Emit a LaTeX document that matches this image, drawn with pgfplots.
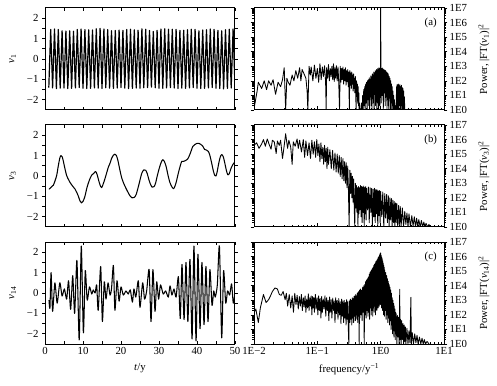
\documentclass[border=0pt]{standalone}
\usepackage{fontspec}
\setmainfont{Liberation Serif}
\usepackage{pgfplots}
\pgfplotsset{compat=1.18}

\pgfplotsset{
  panel/.style={
    scale only axis, width=190pt, height=102pt,
    axis line style={line width=1pt},
    every tick/.style={black, line width=0.7pt},
    xtick align=inside, ytick align=outside,
    major tick length=3pt, minor tick length=3pt,
    tick label style={font=\fontsize{10.8}{12}\selectfont},
    label style={font=\fontsize{10.8}{12}\selectfont},
    xlabel style={yshift=-2pt},
  },
  tpanel/.style={panel,
    xmin=0, xmax=50, ymin=-2.5, ymax=2.5,
    xtick={0,10,...,50}, minor xtick={5,15,...,45},
    ytick={-2,-1,0,1,2}, minor ytick={-1.5,-0.5,0.5,1.5},
    yticklabels={−2,−1,0,1,2},
    ylabel style={at={(axis description cs:-0.17,0.5)}, anchor=center},
  },
  fpanel/.style={panel,
    xmin=0.01, xmax=10, ymin=1, ymax=1e7,
    xtick={0.01,0.1,1,10},
    minor xtick={0.02,0.03,0.04,0.05,0.06,0.07,0.08,0.09,0.2,0.3,0.4,0.5,0.6,0.7,0.8,0.9,2,3,4,5,6,7,8,9},
    minor tick length=2pt, major tick length=3.5pt,
    ytick={1,10,100,1000,10000,100000,1000000,10000000},
    yticklabels={1E0,1E1,1E2,1E3,1E4,1E5,1E6,1E7},
    yticklabel pos=right,
    yticklabel style={inner xsep=2pt},
    ylabel style={at={(axis description cs:1.21,0.5)}, anchor=center},
  },
  ser/.style={black, line width=1.05pt, mark=none, line join=round},
  spec/.style={black, line width=0.85pt, mark=none, line join=round},
}

\begin{document}
\begin{tikzpicture}
\useasboundingbox (0,0) rectangle (497pt,385pt);

% ---------- v1 ----------
\begin{axis}[tpanel, at={(45pt,275pt)}, anchor=south west,
  xticklabels={}, ylabel={\textit{v}\textsubscript{1}}]
\addplot[ser, line width=1.2pt] coordinates {
(1,-1.40)(1.5,1.45)(2,-1.42)(2.5,1.47)(3,-1.45)(3.5,1.45)(4,-1.43)(4.5,1.38)(5,-1.42)(5.5,1.37)
(6,-1.45)(6.5,1.38)(7,-1.44)(7.5,1.36)(8,-1.42)(8.5,1.45)(9,-1.40)(9.5,1.47)(10,-1.43)(10.5,1.44)
(11,-1.45)(11.5,1.43)(12,-1.44)(12.5,1.42)(13,-1.42)(13.5,1.48)(14,-1.43)(14.5,1.50)(15,-1.45)(15.5,1.47)
(16,-1.41)(16.5,1.44)(17,-1.43)(17.5,1.38)(18,-1.44)(18.5,1.40)(19,-1.42)(19.5,1.42)(20,-1.40)(20.5,1.40)
(21,-1.43)(21.5,1.45)(22,-1.45)(22.5,1.46)(23,-1.44)(23.5,1.43)(24,-1.42)(24.5,1.41)(25,-1.43)(25.5,1.48)
(26,-1.41)(26.5,1.46)(27,-1.40)(27.5,1.40)(28,-1.38)(28.5,1.35)(29,-1.41)(29.5,1.40)(30,-1.43)(30.5,1.47)
(31,-1.44)(31.5,1.48)(32,-1.42)(32.5,1.46)(33,-1.40)(33.5,1.46)(34,-1.42)(34.5,1.45)(35,-1.45)(35.5,1.40)
(36,-1.43)(36.5,1.41)(37,-1.44)(37.5,1.44)(38,-1.42)(38.5,1.46)(39,-1.40)(39.5,1.45)(40,-1.43)(40.5,1.38)
(41,-1.45)(41.5,1.42)(42,-1.44)(42.5,1.44)(43,-1.42)(43.5,1.47)(44,-1.40)(44.5,1.45)(45,-1.43)(45.5,1.40)
(46,-1.45)(46.5,1.38)(47,-1.47)(47.5,1.44)(48,-1.44)(48.5,1.46)(49,-1.42)(49.5,1.47)(50,-1.40)
};
\end{axis}

% ---------- v3 ----------
\begin{axis}[tpanel, at={(45pt,158pt)}, anchor=south west,
  xticklabels={}, ylabel={\textit{v}\textsubscript{3}}]
\addplot[ser, smooth] coordinates {
(1.05,-0.65)(1.6,-0.55)(2.2,-0.45)(2.7,-0.2)(3.1,0.05)(3.5,0.5)(3.9,0.88)(4.2,1.0)(4.5,0.95)(4.8,0.75)
(5.2,0.4)(5.7,0.02)(6.2,-0.18)(6.6,-0.32)(7.2,-0.48)(7.9,-0.64)(8.4,-0.82)(8.8,-1.0)(9.2,-1.22)(9.6,-1.32)
(10.0,-1.25)(10.5,-1.0)(11.0,-0.6)(11.4,-0.35)(11.9,-0.1)(12.3,0.05)(12.8,0.12)(13.3,0.22)(13.7,0.08)(14.1,-0.2)
(14.5,-0.45)(14.9,-0.57)(15.3,-0.4)(15.8,-0.12)(16.3,0.2)(16.7,0.45)(17.1,0.62)(17.5,0.85)(18.0,1.02)(18.4,1.07)
(18.8,1.0)(19.2,0.75)(19.7,0.3)(20.2,-0.1)(20.8,-0.4)(21.3,-0.6)(21.9,-0.82)(22.4,-0.98)(22.9,-1.07)(23.5,-1.05)
(24.0,-0.9)(24.6,-0.5)(25.0,-0.2)(25.5,0.15)(26.0,0.3)(26.5,0.28)(26.9,0.12)(27.3,-0.15)(27.7,-0.38)(28.2,-0.55)
(28.7,-0.52)(29.1,-0.35)(29.6,0.05)(30.1,0.4)(30.6,0.68)(31.0,0.8)(31.4,0.72)(31.9,0.45)(32.3,0.1)(32.8,-0.28)
(33.3,-0.5)(33.8,-0.62)(34.2,-0.5)(34.6,-0.25)(35.1,0.15)(35.6,0.5)(36.0,0.72)(36.5,0.72)(37.0,0.76)(37.5,0.82)
(38.0,1.0)(38.5,1.25)(38.9,1.45)(39.5,1.55)(40.0,1.6)(40.5,1.6)(41.0,1.55)(41.5,1.47)(42.0,1.3)(42.5,1.27)
(43.0,1.2)(43.4,1.0)(43.9,0.6)(44.3,0.25)(44.7,0.02)(45.0,0.0)(45.3,0.2)(45.7,0.6)(46.1,0.92)(46.5,1.05)
(46.9,0.95)(47.3,0.65)(47.7,0.3)(48.1,0.06)(48.5,0.12)(48.9,0.35)(49.4,0.55)(50,0.7)
};
\end{axis}

% ---------- v14 ----------
\begin{axis}[tpanel, at={(45pt,41pt)}, anchor=south west,
  xticklabels={0,10,20,30,40,50}, xlabel={\textit{t}/y},
  ylabel={\textit{v}\textsubscript{14}}]
\addplot[ser, smooth, tension=0.4] coordinates {
(1.05,-0.35)(1.3,-0.75)(1.6,1.0)(2.0,-0.9)(2.6,0.5)(3.2,-0.5)(3.9,0.5)(4.5,-0.15)(5.1,0.2)(5.7,-0.3)
(6.2,0.6)(6.75,-0.8)(7.3,0.85)(7.8,-1.0)(8.4,1.6)(9.0,-2.3)(9.55,2.3)(10.1,-1.95)(10.6,1.1)(11.1,-0.35)
(11.7,0.3)(12.3,-0.05)(12.7,0.15)(13.2,0.0)(13.6,0.4)(14.0,-0.85)(14.65,1.3)(15.1,-1.4)(15.6,0.55)(16.05,-0.3)
(16.6,0.5)(17.1,-0.1)(17.5,0.2)(18.0,1.35)(18.4,-0.85)(18.95,0.6)(19.5,-0.4)(20.0,0.3)(20.6,-0.1)(21.3,0.1)
(21.9,-0.05)(22.45,0.15)(23.0,-0.45)(23.4,0.2)(23.9,-0.2)(24.55,0.6)(25.0,-0.7)(25.7,0.5)(26.2,-0.3)(26.75,0.1)
(27.4,1.15)(27.9,-1.4)(28.4,1.15)(28.95,-0.9)(29.4,0.55)(29.9,-0.3)(30.4,0.4)(31.1,-0.05)(31.75,0.1)(32.45,-0.2)
(32.9,0.35)(33.4,-0.1)(33.95,0.2)(34.5,-0.2)(35.1,0.8)(35.6,-1.25)(36.05,1.4)(36.6,-1.3)(37.1,1.5)(37.6,-1.4)
(38.15,1.65)(38.7,-2.25)(39.2,2.3)(39.75,-2.35)(40.25,1.9)(40.8,-1.75)(41.3,1.5)(41.85,-1.55)(42.35,1.3)(42.9,-1.4)
(43.4,1.15)(43.95,-0.6)(44.4,0.1)(44.8,-0.2)(45.35,0.4)(45.9,2.3)(46.5,-2.2)(47.0,1.1)(47.55,-0.5)(48.05,0.1)
(48.6,-0.1)(49.1,0.45)(49.55,-0.5)(50.0,0.0)
};
\end{axis}

% ---------- spectrum (a) ----------
\begin{loglogaxis}[fpanel, at={(254pt,275pt)}, anchor=south west,
  xticklabels={}, ylabel={Power, |FT(\textit{v}\textsubscript{1})|\textsuperscript{2}}]
\addplot[spec] coordinates {
(0.0100,1.2)(0.0112,20)(0.0117,80)(0.0132,30)(0.0145,100)(0.0158,25)(0.0170,100)(0.0186,50)(0.0200,120)(0.0219,12)
(0.0240,80)(0.0263,40)(0.0282,120)(0.0300,800)(0.0316,1)(0.0330,150)(0.0347,80)(0.0370,50)(0.0400,250)(0.0427,100)
(0.0457,500)(0.0490,150)(0.0525,800)(0.0550,100)(0.0575,600)(0.0617,300)(0.0660,150)(0.0690,20)(0.0708,1)(0.0740,1000)
(0.0776,250)
(0.080,900)(0.085,100)(0.090,1200)(0.095,150)(0.100,700)(0.105,80)(0.110,1500)(0.115,120)(0.120,900)(0.125,200)
(0.130,1100)(0.135,90)(0.138,1)(0.140,800)(0.145,150)(0.150,1300)(0.155,100)(0.160,700)(0.165,200)(0.170,1000)
(0.175,120)(0.180,1500)(0.185,90)(0.190,800)(0.195,150)(0.200,1100)(0.206,100)(0.212,900)(0.218,70)(0.224,1)
(0.230,1000)(0.236,80)(0.242,700)(0.248,120)(0.254,900)(0.260,60)(0.266,600)(0.272,100)(0.278,800)(0.284,50)
(0.290,500)(0.296,90)(0.302,600)(0.308,40)(0.314,400)(0.320,1)(0.326,500)(0.332,50)(0.338,350)(0.344,30)
(0.350,400)(0.356,60)(0.362,250)(0.368,20)(0.374,300)(0.380,30)(0.386,150)(0.392,15)(0.398,200)(0.404,10)
(0.410,1)(0.416,100)(0.422,10)(0.428,60)(0.434,3)(0.440,40)(0.446,2)(0.452,15)(0.458,1)(0.464,3)
(0.470,1)(0.490,1)
(0.50,3)(0.51,1)(0.52,10)(0.53,1)(0.54,25)(0.55,2)(0.56,40)(0.57,1)(0.58,60)(0.59,3)
(0.60,80)(0.61,1)(0.62,100)(0.63,5)(0.64,120)(0.65,2)(0.66,160)(0.67,1)(0.68,130)(0.69,8)
(0.70,220)(0.71,2)(0.72,180)(0.73,1)(0.74,300)(0.75,10)(0.76,250)(0.77,3)(0.78,400)(0.79,1)
(0.80,350)(0.81,20)(0.82,500)(0.83,2)(0.84,450)(0.85,5)(0.86,600)(0.87,1)(0.88,550)(0.89,15)
(0.90,700)(0.91,3)(0.92,650)(0.93,1)(0.94,800)(0.95,20)(0.96,700)(0.97,2)(0.98,750)(0.99,10)
(1.00,10000000)(1.01,800)(1.02,3)(1.04,700)(1.06,10)(1.08,750)(1.10,1)(1.12,600)(1.14,15)(1.16,550)
(1.18,2)(1.20,500)(1.22,8)(1.24,400)(1.26,1)(1.28,350)(1.30,5)(1.32,300)(1.34,1)(1.36,200)
(1.38,10)(1.40,150)(1.42,1)(1.44,100)(1.46,3)(1.48,60)(1.50,1)(1.52,40)(1.54,2)(1.56,20)
(1.58,1)(1.60,10)(1.62,1)(1.65,5)(1.68,1)(1.71,2)(1.74,1)
(1.76,1)(1.78,40)(1.80,1)(1.82,55)(1.84,2)(1.86,50)(1.88,1)(1.90,60)(1.92,1)(1.95,45)
(1.98,2)(2.01,55)(2.04,1)(2.07,40)(2.10,1)(2.13,50)(2.16,2)(2.19,35)(2.22,1)(2.25,30)
(2.28,1)(2.31,20)(2.34,1)(2.37,8)(2.40,1)(2.70,1)(2.75,1.3)(2.80,1)
};
\node[font=\fontsize{10.8}{12}\selectfont] at (rel axis cs:0.93,0.85) {(a)};
\end{loglogaxis}

% ---------- spectrum (b) ----------
\begin{loglogaxis}[fpanel, at={(254pt,158pt)}, anchor=south west,
  xticklabels={}, ylabel={Power, |FT(\textit{v}\textsubscript{3})|\textsuperscript{2}}]
\addplot[spec] coordinates {
(0.0100,400000)(0.0110,600000)(0.0120,250000)(0.0132,500000)(0.0141,1000000)(0.0151,350000)(0.0162,1100000)(0.0174,450000)(0.0186,220000)(0.0195,900000)
(0.0209,700000)(0.0224,110000)(0.0234,800000)(0.0251,400000)(0.0263,900000)(0.0282,50000)(0.0300,400000)(0.0316,2500000)(0.0339,250000)(0.0355,900000)
(0.0380,300000)(0.0400,20000)(0.0417,700000)(0.0447,350000)(0.0479,1100000)(0.0500,250000)(0.0525,900000)(0.0562,140000)(0.0600,1000000)(0.0630,60000)
(0.066,800000)(0.070,80000)(0.074,600000)(0.078,50000)(0.082,900000)(0.086,100000)(0.090,700000)(0.094,60000)(0.098,1000000)(0.102,80000)
(0.106,500000)(0.110,30000)(0.114,600000)(0.118,50000)(0.122,300000)(0.126,20000)(0.130,400000)(0.134,30000)(0.138,250000)(0.142,10000)
(0.146,300000)(0.150,20000)(0.158,200000)(0.166,10000)(0.174,180000)(0.182,8000)(0.190,120000)(0.198,6000)(0.206,100000)(0.214,5000)
(0.222,80000)(0.230,3000)(0.238,60000)(0.246,2000)(0.254,50000)(0.262,1500)(0.270,30000)(0.278,1000)(0.286,25000)(0.294,500)
(0.302,15000)(0.310,300)(0.318,1)(0.326,8000)(0.334,200)(0.342,5000)(0.350,100)(0.358,3000)(0.366,50)(0.374,2000)
(0.382,30)(0.390,1)(0.398,1000)(0.406,20)(0.414,700)(0.422,10)(0.430,500)(0.438,1)(0.446,600)(0.454,8)
(0.462,500)(0.470,15)(0.48,700)(0.49,5)(0.50,600)(0.51,2)(0.52,550)(0.53,10)(0.54,650)(0.55,1)
(0.56,500)(0.57,8)(0.58,600)(0.59,3)(0.60,450)(0.62,15)(0.64,550)(0.66,2)(0.68,500)(0.70,10)
(0.72,450)(0.74,1)(0.76,400)(0.78,5)(0.80,450)(0.82,2)(0.84,380)(0.86,8)(0.88,350)(0.90,1)
(0.92,300)(0.94,6)(0.96,320)(0.98,2)(1.00,280)(1.04,5)(1.08,250)(1.12,1)(1.16,200)(1.20,4)
(1.24,170)(1.28,2)(1.32,140)(1.36,1)(1.40,100)(1.44,3)(1.48,90)(1.52,1)(1.56,70)(1.60,2)
(1.64,55)(1.68,1)(1.72,45)(1.76,2)(1.80,40)(1.86,1)(1.92,30)(1.98,1.5)(2.04,25)(2.10,1)
(2.2,20)(2.3,1)(2.4,12)(2.5,1.5)(2.6,9)(2.7,1)(2.8,8)(2.95,1)(3.1,6)(3.25,1.2)
(3.4,5)(3.55,1)(3.7,4)(3.85,1)(4.0,3.2)(4.2,1)(4.4,2.8)(4.6,1)(4.8,2.2)(5.0,1)
(5.2,1.8)(5.5,1)(5.8,1.5)(6.0,1)
};
\node[font=\fontsize{10.8}{12}\selectfont] at (rel axis cs:0.93,0.85) {(b)};
\end{loglogaxis}

% ---------- spectrum (c) ----------
\begin{loglogaxis}[fpanel, at={(254pt,41pt)}, anchor=south west,
  xticklabels={1E−2,1E−1,1E0,1E1}, xlabel={frequency/y\textsuperscript{−1}},
  ylabel={Power, |FT(\textit{v}\textsubscript{14})|\textsuperscript{2}}]
\addplot[spec] coordinates {
(0.0100,140)(0.0107,250)(0.0117,30)(0.0126,300)(0.0141,2500)(0.0155,700)(0.0170,1100)(0.0182,2000)(0.0195,4000)(0.0214,7000)
(0.0234,6000)(0.0251,2500)(0.0269,2200)(0.0288,4000)(0.0310,1100)(0.0324,3000)
(0.034,400)(0.036,2500)(0.038,300)(0.040,2000)(0.042,150)(0.044,3000)(0.046,500)(0.048,2200)(0.050,250)(0.052,1800)
(0.054,400)(0.056,2500)(0.058,200)(0.060,1500)(0.062,350)(0.064,2000)(0.066,150)(0.068,1200)(0.070,300)(0.072,2800)
(0.074,200)(0.076,1500)(0.078,400)(0.080,2000)(0.082,100)(0.084,1800)(0.086,300)(0.088,1500)(0.090,150)(0.093,2500)
(0.096,250)(0.099,1500)(0.102,100)(0.105,2000)(0.108,200)(0.111,1300)(0.114,60)(0.117,1800)(0.120,150)(0.124,1200)
(0.128,250)(0.132,2000)(0.136,80)(0.140,1500)(0.144,200)(0.148,1000)(0.152,40)(0.156,1700)(0.160,150)(0.165,1100)
(0.170,60)(0.175,1400)(0.180,200)(0.185,900)(0.190,30)(0.195,1500)(0.200,120)(0.206,1000)(0.212,50)(0.218,1300)
(0.224,100)(0.230,800)(0.236,25)(0.242,1200)(0.248,80)(0.254,900)(0.260,30)(0.266,1000)(0.272,60)(0.278,700)
(0.284,20)(0.290,1100)(0.296,50)(0.302,800)(0.308,15)(0.314,1)(0.320,900)(0.326,30)(0.332,1200)(0.338,50)
(0.344,1000)(0.350,20)(0.356,1500)(0.362,60)(0.368,1300)(0.374,30)(0.380,1800)(0.386,80)(0.392,2000)(0.398,40)
(0.404,2500)(0.410,100)(0.416,2000)(0.422,50)(0.428,3000)(0.434,30)(0.440,3500)(0.446,80)(0.452,4000)(0.458,1)
(0.464,5000)(0.470,60)(0.48,6000)(0.49,100)(0.50,5000)(0.51,40)(0.52,8000)(0.53,150)(0.54,10000)(0.55,1)
(0.56,12000)(0.57,100)(0.58,20000)(0.59,60)(0.60,25000)(0.61,200)(0.62,30000)(0.63,80)(0.64,40000)(0.65,150)
(0.66,60000)(0.67,50)(0.68,80000)(0.69,300)(0.70,100000)(0.71,100)(0.72,120000)(0.73,200)(0.74,150000)(0.75,80)
(0.76,180000)(0.77,300)(0.78,250000)(0.79,150)(0.80,300000)(0.81,400)(0.82,350000)(0.83,100)(0.84,450000)(0.85,300)
(0.86,500000)(0.87,200)(0.88,600000)(0.89,500)(0.90,700000)(0.91,300)(0.92,900000)(0.93,600)(0.94,1000000)(0.95,400)
(0.96,1300000)(0.97,800)(0.98,1600000)(0.99,500)(1.00,1800000)(1.01,700)(1.02,1200000)(1.03,300)(1.04,900000)(1.05,500)
(1.06,700000)(1.07,200)(1.08,500000)(1.09,400)(1.10,350000)(1.11,100)(1.12,250000)(1.13,300)(1.14,180000)(1.15,80)
(1.16,120000)(1.18,200)(1.20,80000)(1.22,50)(1.24,50000)(1.26,100)(1.28,30000)(1.30,30)(1.32,20000)(1.34,60)
(1.36,12000)(1.38,20)(1.40,8000)(1.42,40)(1.44,5000)(1.46,10)(1.48,3000)(1.50,20)(1.52,1500)(1.54,5)
(1.56,1000)(1.58,10)(1.60,600)(1.62,3)(1.64,400)(1.66,8)(1.68,250)(1.70,2)(1.72,150)(1.74,5)
(1.76,120)(1.80,1)(1.84,90)(1.88,3)(1.92,70)(1.96,1)(2.00,5600)(2.02,2)(2.06,50)(2.10,1)
(2.15,40)(2.20,2)(2.25,25)(2.30,1)(2.35,20)(2.40,1.5)(2.45,15)(2.50,1)(2.6,12)(2.7,1)
(2.8,8)(2.9,1.2)(3.0,1600)(3.05,1)(3.15,6)(3.3,1)(3.45,5)(3.6,1.2)(3.75,4)(3.9,1)
(4.1,3)(4.3,1)(4.5,2.5)(4.7,1)(4.9,2)(5.1,1)(5.4,1.5)(5.8,1)
};
\node[font=\fontsize{10.8}{12}\selectfont] at (rel axis cs:0.93,0.85) {(c)};
\end{loglogaxis}
\end{tikzpicture}
\end{document}
